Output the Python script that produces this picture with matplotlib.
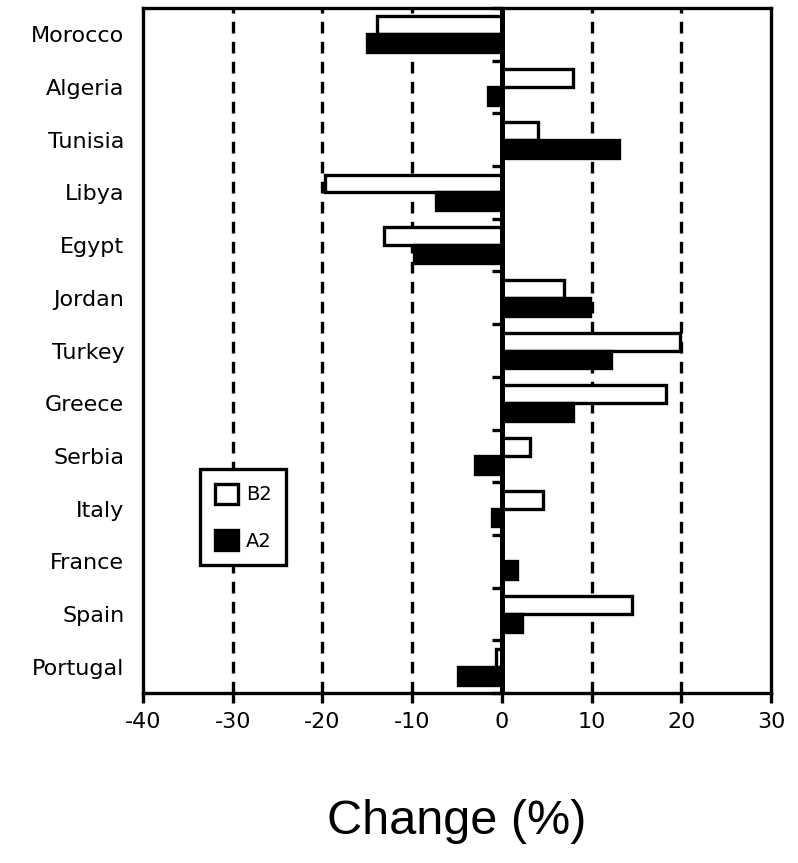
import matplotlib
matplotlib.use("Agg")
import matplotlib.pyplot as plt
import numpy as np

plt.rcParams['axes.unicode_minus'] = False

countries = ['Morocco', 'Algeria', 'Tunisia', 'Libya', 'Egypt', 'Jordan', 'Turkey',
             'Greece', 'Serbia', 'Italy', 'France', 'Spain', 'Portugal']
b2 = [-13.9, 7.9, 4.0, -19.7, -13.1, 6.9, 19.8, 18.3, 3.1, 4.6, 0.0, 14.5, -0.6]
a2 = [-15.0, -1.6, 13.1, -7.3, -9.8, 9.8, 12.2, 7.9, -3.0, -1.1, 1.7, 2.2, -4.9]
xticks = [-40, -30, -20, -10, 0, 10, 20, 30]

fig = plt.figure(figsize=(7.98, 8.63), dpi=100)
ax = fig.add_axes([0.1792, 0.197, 0.787, 0.7937])

y = np.arange(len(countries))
h = 0.34
lw = 2.4

# dashed grid behind bars
for xv in [-30, -20, -10, 10, 20]:
    ax.axvline(xv, color='black', lw=lw, linestyle=(0, (3.5, 2.5)), zorder=0)

ax.barh(y - h / 2, b2, height=h, color='white', edgecolor='black', linewidth=lw,
        label='B2', zorder=2)
ax.barh(y + h / 2, a2, height=h, color='black', edgecolor='black', linewidth=lw,
        label='A2', zorder=2)
ax.axvline(0, color='black', lw=3.6, zorder=3)

ax.set_xlim(-40, 30)
ax.set_ylim(len(countries) - 0.5, -0.5)

ax.set_xticks(xticks)
ax.set_xticklabels([str(v) for v in xticks], fontsize=16, family='DejaVu Sans')
ax.set_yticks(y)
ax.set_yticklabels(countries, fontsize=16, family='DejaVu Sans')
ax.tick_params(axis='y', length=0, pad=13.5)
ax.tick_params(axis='x', direction='out', length=7, width=lw, pad=7)

for s in ax.spines.values():
    s.set_linewidth(lw)

# category axis sitting on zero, ticks between the categories
zero_ax = ax.secondary_yaxis(40 / 70)
zero_ax.spines['left'].set_visible(False)
zero_ax.set_yticks(np.arange(len(countries) + 1) - 0.5)
zero_ax.set_yticklabels([])
zero_ax.tick_params(length=7, width=lw, direction='in')

ax.set_xlabel('Change (%)', fontsize=35, family='Liberation Sans', labelpad=48)

leg = ax.legend(loc='upper left', bbox_to_anchor=(0.091, 0.327),
                prop={'family': 'DejaVu Sans', 'size': 14},
                fancybox=False, edgecolor='black', framealpha=1,
                handlelength=1.2, handleheight=1.2, handletextpad=0.4,
                labelspacing=1.35, borderpad=0.75, borderaxespad=0)
leg.get_frame().set_linewidth(lw)

fig.savefig('out.png', dpi=100)
